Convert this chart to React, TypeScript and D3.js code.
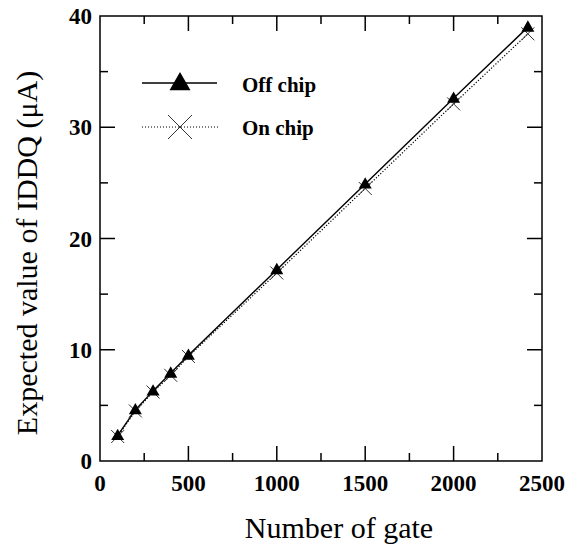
import React from 'react'
import * as d3 from 'd3'

// data
const gates = [100, 200, 300, 400, 500, 1000, 1500, 2000, 2420]
const offChip = [2.3, 4.6, 6.3, 7.9, 9.5, 17.2, 24.9, 32.6, 39.0]
const onChip = [2.2, 4.5, 6.2, 7.7, 9.4, 16.9, 24.5, 32.1, 38.4]
const xTicks = [0, 500, 1000, 1500, 2000, 2500]
const yTicks = [0, 10, 20, 30, 40]
const seriesNames = ['Off chip', 'On chip']

const W = 565
const H = 548
const left = 100
const right = 542
const top = 16
const bottom = 461
const serif = '"Liberation Serif", "DejaVu Serif", serif'

function triPath(cx: number, cy: number, s: number) {
  const h = s * 0.87
  return `M${cx},${cy - h * 0.6}L${cx + s / 2},${cy + h * 0.4}L${cx - s / 2},${cy + h * 0.4}Z`
}

function crossPath(cx: number, cy: number, s: number) {
  const r = s / 2
  return `M${cx - r},${cy - r}L${cx + r},${cy + r}M${cx - r},${cy + r}L${cx + r},${cy - r}`
}

export default function App() {
  const x = d3.scaleLinear().domain([0, 2500]).range([left, right])
  const y = d3.scaleLinear().domain([0, 40]).range([bottom, top])

  const line = d3
    .line<number>()
    .x((_, i) => x(gates[i]))
    .y(d => y(d))

  const xMinor = d3.range(250, 2500, 500)
  const yMinor = d3.range(5, 40, 10)

  return (
    <svg width={W} height={H} style={{ position: 'absolute', left: 0, top: 0, background: '#fff' }}>
      <rect x={0} y={0} width={W} height={H} fill="#fff" />
      {/* frame */}
      <rect x={left} y={top} width={right - left} height={bottom - top} fill="none" stroke="#000" strokeWidth={1.5} />

      {/* x ticks, bottom and top */}
      {xTicks.slice(1, -1).map(t => (
        <g key={'xt' + t}>
          <line x1={x(t)} x2={x(t)} y1={bottom} y2={bottom - 15} stroke="#000" strokeWidth={1.5} />
          <line x1={x(t)} x2={x(t)} y1={top} y2={top + 15} stroke="#000" strokeWidth={1.5} />
        </g>
      ))}
      {xMinor.map(t => (
        <g key={'xm' + t}>
          <line x1={x(t)} x2={x(t)} y1={bottom} y2={bottom - 8} stroke="#000" strokeWidth={1.5} />
          <line x1={x(t)} x2={x(t)} y1={top} y2={top + 8} stroke="#000" strokeWidth={1.5} />
        </g>
      ))}
      {/* y ticks, left and right */}
      {yTicks.slice(1, -1).map(t => (
        <g key={'yt' + t}>
          <line x1={left} x2={left + 15} y1={y(t)} y2={y(t)} stroke="#000" strokeWidth={1.5} />
          <line x1={right} x2={right - 15} y1={y(t)} y2={y(t)} stroke="#000" strokeWidth={1.5} />
        </g>
      ))}
      {yMinor.map(t => (
        <g key={'ym' + t}>
          <line x1={left} x2={left + 8} y1={y(t)} y2={y(t)} stroke="#000" strokeWidth={1.5} />
          <line x1={right} x2={right - 8} y1={y(t)} y2={y(t)} stroke="#000" strokeWidth={1.5} />
        </g>
      ))}

      {/* tick labels */}
      {xTicks.map(t => (
        <text key={'xl' + t} x={x(t)} y={491} textAnchor="middle" fontFamily={serif} fontWeight="bold" fontSize={23}>
          {t}
        </text>
      ))}
      {yTicks.map(t => (
        <text key={'yl' + t} x={92} y={y(t) + 8} textAnchor="end" fontFamily={serif} fontWeight="bold" fontSize={23}>
          {t}
        </text>
      ))}

      {/* axis titles */}
      <text x={(244 + 434) / 2} y={538} textAnchor="middle" fontFamily={serif} fontSize={30}>
        Number of gate
      </text>
      <text transform="translate(37,253) rotate(-90)" textAnchor="middle" fontFamily={serif} fontSize={30}>
        Expected value of IDDQ (μA)
      </text>

      {/* series */}
      <path d={line(onChip) || ''} fill="none" stroke="#000" strokeWidth={1.2} strokeDasharray="1.2,1.8" />
      <path d={line(offChip) || ''} fill="none" stroke="#000" strokeWidth={1.4} />
      {onChip.map((v, i) => (
        <path key={'on' + i} d={crossPath(x(gates[i]), y(v), 13)} stroke="#333" strokeWidth={1} fill="none" />
      ))}
      {offChip.map((v, i) => (
        <path key={'off' + i} d={triPath(x(gates[i]), y(v), 13)} fill="#000" />
      ))}

      {/* legend */}
      <line x1={142} x2={217} y1={83} y2={83} stroke="#000" strokeWidth={1.5} />
      <path d={triPath(180, 83, 21)} fill="#000" />
      <text x={242} y={92} fontFamily={serif} fontWeight="bold" fontSize={21}>
        {seriesNames[0]}
      </text>
      <line x1={142} x2={218} y1={127} y2={127} stroke="#000" strokeWidth={1} strokeDasharray="1,2" />
      <path d={crossPath(180, 127, 24)} stroke="#333" strokeWidth={1} fill="none" />
      <text x={242} y={135} fontFamily={serif} fontWeight="bold" fontSize={21}>
        {seriesNames[1]}
      </text>
    </svg>
  )
}
